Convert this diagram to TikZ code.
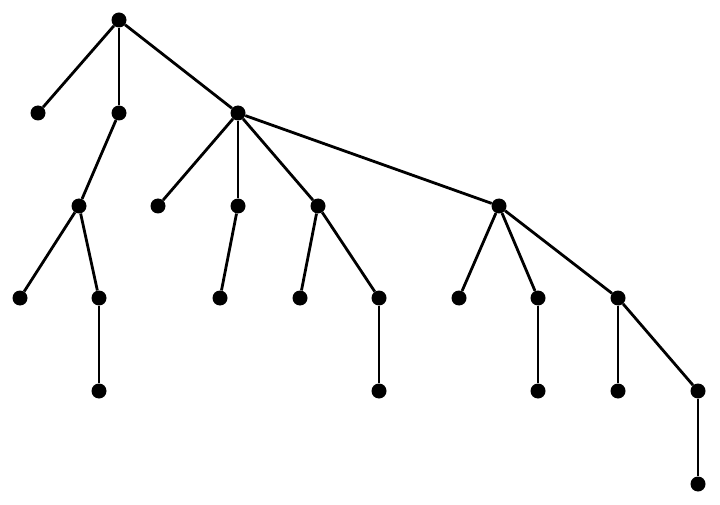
\documentclass[tikz,border=0pt]{standalone}
\begin{document}
\begin{tikzpicture}[x=1pt,y=-1pt,
  dot/.style={circle,fill=black,inner sep=0pt,minimum size=15pt},
  edge/.style={line width=2.8pt,black}]
\useasboundingbox (0,0) rectangle (720,505);
\node[dot] (r) at (119,20) {};
\node[dot] (a) at (38,113) {};
\node[dot] (b) at (119,113) {};
\node[dot] (c) at (238,113) {};
\node[dot] (b1) at (79,206) {};
\node[dot] (c1) at (158,206) {};
\node[dot] (c2) at (238,206) {};
\node[dot] (c3) at (318,206) {};
\node[dot] (c4) at (499,206) {};
\node[dot] (b11) at (20,298) {};
\node[dot] (b12) at (99,298) {};
\node[dot] (c21) at (220,298) {};
\node[dot] (c31) at (300,298) {};
\node[dot] (c32) at (379,298) {};
\node[dot] (c41) at (459,298) {};
\node[dot] (c42) at (538,298) {};
\node[dot] (c43) at (618,298) {};
\node[dot] (b121) at (99,391) {};
\node[dot] (c321) at (379,391) {};
\node[dot] (c421) at (538,391) {};
\node[dot] (c431) at (618,391) {};
\node[dot] (c432) at (698,391) {};
\node[dot] (c4321) at (698,484) {};
\draw[edge] (r) -- (a);
\draw[edge] (r) -- (b);
\draw[edge] (r) -- (c);
\draw[edge] (b) -- (b1);
\draw[edge] (c) -- (c1);
\draw[edge] (c) -- (c2);
\draw[edge] (c) -- (c3);
\draw[edge] (c) -- (c4);
\draw[edge] (b1) -- (b11);
\draw[edge] (b1) -- (b12);
\draw[edge] (c2) -- (c21);
\draw[edge] (c3) -- (c31);
\draw[edge] (c3) -- (c32);
\draw[edge] (c4) -- (c41);
\draw[edge] (c4) -- (c42);
\draw[edge] (c4) -- (c43);
\draw[edge] (b12) -- (b121);
\draw[edge] (c32) -- (c321);
\draw[edge] (c42) -- (c421);
\draw[edge] (c43) -- (c431);
\draw[edge] (c43) -- (c432);
\draw[edge] (c432) -- (c4321);
\end{tikzpicture}
\end{document}
